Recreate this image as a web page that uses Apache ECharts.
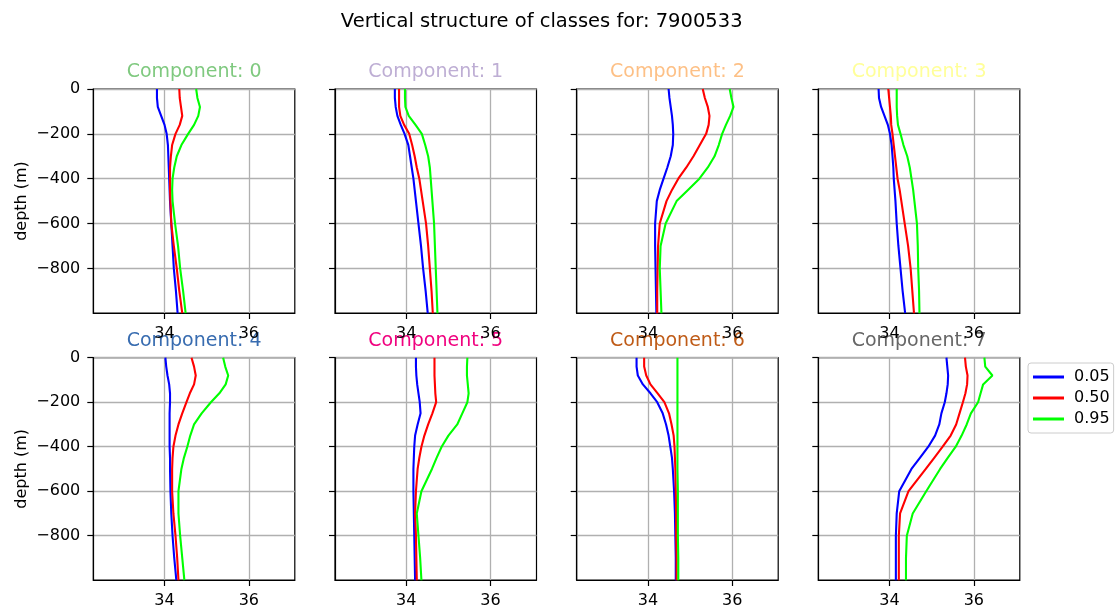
<!DOCTYPE html>
<html>
<head>
<meta charset="utf-8">
<script src="https://cdn.jsdelivr.net/npm/echarts@6/dist/echarts.min.js"></script>
<style>
html, body { margin: 0; padding: 0; background: #fff; }
#chart { width: 1115px; height: 613px; }
</style>
</head>
<body>
<div id="chart"></div>
<script>
// depth levels (m) shared by every profile
const depth = [0, -40, -80, -120, -160, -200, -250, -300, -350, -400, -450, -500, -600, -700, -800, -900, -1000];

// 0.05 quantile, one array per component
const q05 = [
    [33.82, 33.82, 33.84, 33.92, 34.00, 34.05, 34.08, 34.09, 34.10, 34.11, 34.12, 34.13, 34.16, 34.19, 34.22, 34.27, 34.31],
    [33.73, 33.73, 33.75, 33.79, 33.87, 33.96, 34.05, 34.09, 34.13, 34.17, 34.20, 34.23, 34.29, 34.35, 34.40, 34.46, 34.51],
    [34.49, 34.51, 34.54, 34.57, 34.59, 34.60, 34.59, 34.54, 34.46, 34.37, 34.28, 34.21, 34.17, 34.17, 34.18, 34.19, 34.20],
    [33.74, 33.75, 33.80, 33.88, 33.96, 34.01, 34.05, 34.07, 34.09, 34.10, 34.12, 34.14, 34.17, 34.21, 34.26, 34.31, 34.37],
    [34.02, 34.04, 34.07, 34.11, 34.13, 34.13, 34.12, 34.12, 34.12, 34.12, 34.13, 34.13, 34.14, 34.16, 34.19, 34.23, 34.28],
    [34.23, 34.23, 34.24, 34.26, 34.29, 34.32, 34.34, 34.27, 34.21, 34.19, 34.18, 34.17, 34.17, 34.18, 34.19, 34.20, 34.21],
    [33.73, 33.73, 33.76, 33.88, 34.06, 34.22, 34.35, 34.43, 34.49, 34.53, 34.57, 34.59, 34.62, 34.64, 34.65, 34.66, 34.66],
    [35.35, 35.37, 35.39, 35.38, 35.35, 35.31, 35.23, 35.18, 35.08, 34.92, 34.72, 34.52, 34.23, 34.17, 34.15, 34.15, 34.15]
];

// 0.50 quantile
const q50 = [
    [34.35, 34.36, 34.39, 34.42, 34.36, 34.26, 34.18, 34.15, 34.13, 34.13, 34.13, 34.14, 34.16, 34.22, 34.29, 34.35, 34.42],
    [33.83, 33.83, 33.83, 33.86, 33.95, 34.07, 34.14, 34.20, 34.25, 34.31, 34.35, 34.39, 34.47, 34.52, 34.56, 34.60, 34.63],
    [35.30, 35.35, 35.42, 35.46, 35.44, 35.38, 35.23, 35.08, 34.91, 34.72, 34.57, 34.44, 34.28, 34.24, 34.23, 34.22, 34.22],
    [33.97, 33.99, 34.01, 34.03, 34.04, 34.07, 34.10, 34.13, 34.16, 34.19, 34.24, 34.28, 34.36, 34.44, 34.50, 34.54, 34.58],
    [34.64, 34.70, 34.74, 34.70, 34.60, 34.52, 34.42, 34.33, 34.26, 34.21, 34.19, 34.18, 34.18, 34.21, 34.26, 34.30, 34.33],
    [34.67, 34.67, 34.67, 34.68, 34.69, 34.71, 34.62, 34.52, 34.43, 34.36, 34.31, 34.27, 34.23, 34.21, 34.23, 34.24, 34.25],
    [33.91, 33.91, 33.96, 34.06, 34.23, 34.39, 34.50, 34.56, 34.61, 34.63, 34.64, 34.65, 34.66, 34.67, 34.67, 34.68, 34.68],
    [35.79, 35.81, 35.85, 35.84, 35.80, 35.74, 35.66, 35.58, 35.45, 35.26, 35.06, 34.86, 34.45, 34.25, 34.22, 34.22, 34.22]
];

// 0.95 quantile
const q95 = [
    [34.75, 34.78, 34.84, 34.80, 34.70, 34.56, 34.40, 34.29, 34.23, 34.19, 34.18, 34.19, 34.25, 34.32, 34.37, 34.44, 34.50],
    [33.97, 33.97, 33.98, 34.06, 34.22, 34.37, 34.45, 34.52, 34.56, 34.58, 34.60, 34.62, 34.66, 34.68, 34.70, 34.72, 34.74],
    [35.94, 35.98, 36.03, 35.95, 35.85, 35.76, 35.68, 35.58, 35.42, 35.22, 34.95, 34.68, 34.42, 34.30, 34.28, 34.30, 34.32],
    [34.17, 34.17, 34.17, 34.18, 34.20, 34.26, 34.33, 34.42, 34.48, 34.52, 34.56, 34.59, 34.65, 34.67, 34.68, 34.70, 34.71],
    [35.39, 35.44, 35.51, 35.45, 35.30, 35.10, 34.88, 34.70, 34.61, 34.54, 34.46, 34.40, 34.33, 34.33, 34.37, 34.42, 34.47],
    [35.45, 35.44, 35.44, 35.46, 35.48, 35.45, 35.33, 35.21, 35.00, 34.84, 34.72, 34.61, 34.36, 34.25, 34.29, 34.33, 34.36],
    [34.70, 34.70, 34.70, 34.70, 34.70, 34.70, 34.70, 34.70, 34.70, 34.70, 34.70, 34.70, 34.71, 34.71, 34.71, 34.72, 34.72],
    [36.25, 36.27, 36.44, 36.22, 36.16, 36.10, 35.93, 35.83, 35.71, 35.57, 35.38, 35.20, 34.87, 34.55, 34.41, 34.39, 34.39]
];

const components = ['Component: 0', 'Component: 1', 'Component: 2', 'Component: 3',
                    'Component: 4', 'Component: 5', 'Component: 6', 'Component: 7'];
const componentColors = ['#7fc97f', '#beaed4', '#fdc086', '#ffff99', '#386cb0', '#f0027f', '#bf5b17', '#666666'];
const quantiles = ['0.05', '0.50', '0.95'];
const quantileColors = ['#0000ff', '#ff0000', '#00ff00'];
const xTicks = [34, 36];
const yTicks = [0, -200, -400, -600, -800];

const FONT = 'DejaVu Sans';
const colLeft = [93.3, 335, 576.7, 818.3];
const rowTop = [89, 357.7];
const rowHeight = [224, 222.3];
const panelWidth = 201.5;

const minus = v => (v < 0 ? '\u2212' + Math.abs(v) : String(v));

const grids = [], xAxes = [], yAxes = [], series = [], texts = [];

texts.push({
    type: 'text', x: 541.7, y: 21.5,
    style: { text: 'Vertical structure of classes for: 7900533', font: '19.5px "' + FONT + '"',
             fill: '#000', align: 'center', verticalAlign: 'middle' }
});

components.forEach((name, i) => {
    const row = Math.floor(i / 4), col = i % 4;
    grids.push({
        left: colLeft[col], top: rowTop[row], width: panelWidth, height: rowHeight[row],
        show: true, borderColor: '#000', borderWidth: 1.2, backgroundColor: 'transparent'
    });
    xAxes.push({
        type: 'value', gridIndex: i, min: 32.31, max: 37.09,
        axisLine: { show: true, onZero: false, lineStyle: { color: '#000', width: 1.2 } },
        axisTick: { show: true, customValues: xTicks, length: 6, lineStyle: { color: '#000', width: 1.2 } },
        axisLabel: { show: true, customValues: xTicks, fontSize: 16, fontFamily: FONT, color: '#000', margin: 13 },
        splitLine: { show: true, lineStyle: { color: '#b0b0b0', width: 1.3 } }
    });
    yAxes.push({
        type: 'value', gridIndex: i, min: -999, max: 0,
        name: col === 0 ? 'depth (m)' : '', nameLocation: 'middle', nameGap: 63, nameRotate: 90,
        nameTextStyle: { fontSize: 16, fontFamily: FONT, color: '#000' },
        axisLine: { show: true, onZero: false, lineStyle: { color: '#000', width: 1.2 } },
        axisTick: { show: true, customValues: yTicks, length: 6, lineStyle: { color: '#000', width: 1.2 } },
        axisLabel: { show: col === 0, customValues: yTicks, fontSize: 16, fontFamily: FONT, color: '#000',
                     margin: 13, formatter: minus },
        splitLine: { show: true, lineStyle: { color: '#b0b0b0', width: 1.3 } }
    });
    texts.push({
        type: 'text', x: colLeft[col] + panelWidth / 2, y: rowTop[row] - 16.5,
        style: { text: name, font: '19px "' + FONT + '"', fill: componentColors[i],
                 align: 'center', verticalAlign: 'middle' }
    });
    [q05, q50, q95].forEach((q, k) => {
        series.push({
            type: 'line', name: quantiles[k], xAxisIndex: i, yAxisIndex: i,
            data: depth.map((d, j) => [q[i][j], d]),
            showSymbol: false, symbol: 'none', clip: true,
            color: quantileColors[k],
            lineStyle: { color: quantileColors[k], width: 2.1 }
        });
    });
});

const chart = echarts.init(document.getElementById('chart'));
chart.setOption({
    animation: false,
    backgroundColor: '#fff',
    textStyle: { fontFamily: FONT },
    grid: grids,
    xAxis: xAxes,
    yAxis: yAxes,
    series: series,
    graphic: texts,
    legend: {
        data: quantiles, orient: 'vertical', left: 1028, top: 363,
        icon: 'rect', itemWidth: 31, itemHeight: 3, itemGap: 5,
        textStyle: { fontSize: 16, fontFamily: FONT, color: '#000', padding: [0, 0, 0, 5] },
        borderColor: '#cccccc', borderWidth: 1, borderRadius: 3, padding: [6, 4, 6, 5],
        backgroundColor: '#fff'
    }
});
</script>
</body>
</html>
